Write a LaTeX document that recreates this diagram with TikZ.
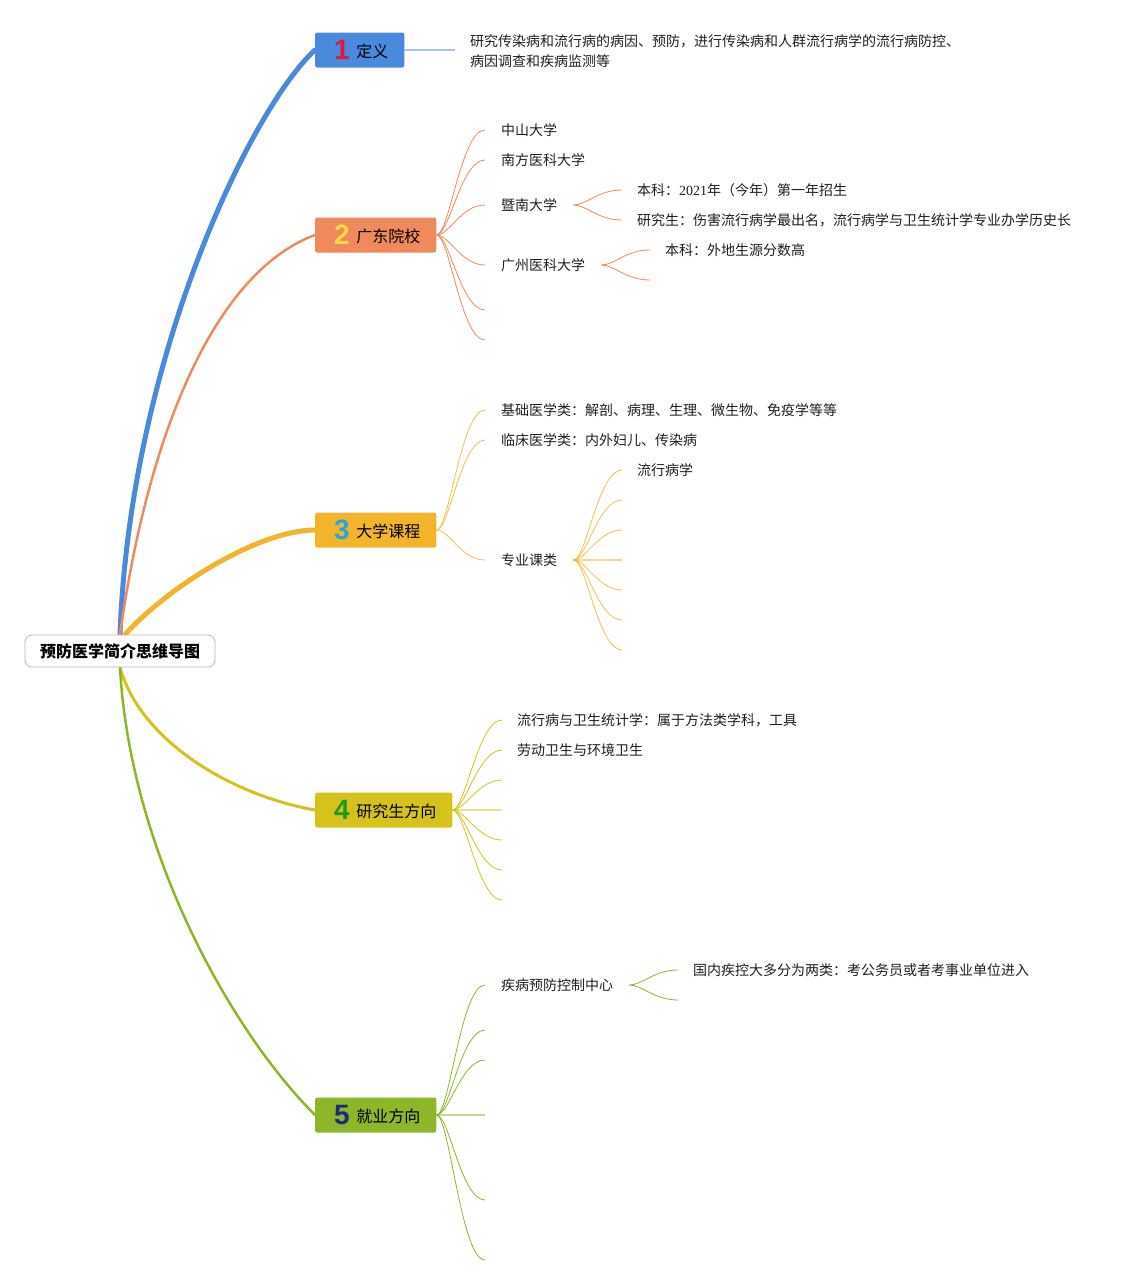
\documentclass[tikz,border=0pt]{standalone}
\usepackage{fontspec}
\setmainfont{Noto Sans CJK SC}
\newfontfamily\digitfont{Liberation Sans}
\newfontfamily\numserif{Liberation Serif}
\usetikzlibrary{calc,backgrounds}
\definecolor{cBlue}{HTML}{4A89DC}
\definecolor{cOrange}{HTML}{F08A5D}
\definecolor{cYellow}{HTML}{F1B42B}
\definecolor{cOlive}{HTML}{D5C31B}
\definecolor{cGreen}{HTML}{8DB62A}
\definecolor{nRed}{HTML}{E0173E}
\definecolor{nYellow}{HTML}{F7D744}
\definecolor{nBlue}{HTML}{2BA3DB}
\definecolor{nGreen}{HTML}{1E9B1E}
\definecolor{nNavy}{HTML}{1D2B7D}
\definecolor{cDefLine}{HTML}{A3C4EC}
\newcommand\dg[2]{\hspace*{3pt}\raisebox{-2.5pt}{\digitfont\bfseries\fontsize{28}{28}\selectfont\color{#1}#2}\hspace{6.5pt}}
\newcommand\kid[3][]{\draw[#1] (#2) .. controls ([xshift=13pt]#2) and ([xshift=-24pt]#3) .. (#3);}
\begin{document}
\begin{tikzpicture}[x=1pt,y=-1pt,
  topic/.style={anchor=west, minimum height=35pt, minimum width=0pt, inner xsep=16pt, inner ysep=0pt, rounded corners=2pt, font=\fontsize{16}{16}\selectfont, text=black},
  leaf/.style={anchor=west, inner sep=0pt, font=\fontsize{14}{14}\selectfont, text=black!88},
  rootbox/.style={draw=gray!55, rounded corners=7pt, fill=white, minimum height=32pt, inner xsep=15pt, inner ysep=0pt, font=\bfseries\fontsize{16}{16}\selectfont, line width=0.8pt},
  mainline/.style={line cap=round},
  thin/.style={line width=0.8pt},
  flat/.style={line width=2pt, opacity=0.5}]
\useasboundingbox (0,0) rectangle (1131,1285);
% root
\node[rootbox] (root) at (120,651) {预防医学简介思维导图};
% topics
\node[topic, fill=cBlue] (t1) at (315,50) {\dg{nRed}{1}定义};
\node[topic, fill=cOrange] (t2) at (315,235) {\dg{nYellow}{2}广东院校};
\node[topic, fill=cYellow] (t3) at (315,530) {\dg{nBlue}{3}大学课程};
\node[topic, fill=cOlive] (t4) at (315,810) {\dg{nGreen}{4}研究生方向};
\node[topic, fill=cGreen] (t5) at (315,1115) {\dg{nNavy}{5}就业方向};
\begin{scope}[on background layer]
\draw[mainline, cBlue, line width=5pt] (root.north) .. controls (130,360) and (250,110) .. (t1.west);
\draw[mainline, cOrange, line width=2.5pt] (root.north) .. controls (150,420) and (220,270) .. (t2.west);
\draw[mainline, cYellow, line width=5pt] ([xshift=5pt]root.north) .. controls (170,585) and (260,530) .. (t3.west);
\draw[mainline, cOlive, line width=3pt] (root.south) .. controls (140,740) and (230,795) .. (t4.west);
\draw[mainline, cGreen, line width=2.5pt] (root.south) .. controls (130,850) and (230,1030) .. (t5.west);
\end{scope}
% 1 definition
\coordinate (d1c) at (455,50);
\draw[cDefLine, line width=1.5pt] (t1.east) -- (d1c);
\node[leaf, align=left, font=\fontsize{14}{20}\selectfont] (d1) at (470,51) {研究传染病和流行病的病因、预防，进行传染病和人群流行病学的流行病防控、\\病因调查和疾病监测等};
% 2 schools
\foreach \n/\y in {a/130,b/160,c/205,d/265,e/310,f/340}{
  \coordinate (c2\n) at (485,\y);
  \kid[cOrange, thin]{t2.east}{c2\n}
}
\node[leaf] (l2a) at (501,130) {中山大学};
\node[leaf] (l2b) at (501,160) {南方医科大学};
\node[leaf] (l2c) at (501,205) {暨南大学};
\node[leaf] (l2d) at (501,265) {广州医科大学};
\coordinate (s2c) at ([xshift=16pt]l2c.east);
\coordinate (c2c1) at (622,190);
\coordinate (c2c2) at (622,220);
\kid[cOrange, thin]{s2c}{c2c1}
\kid[cOrange, thin]{s2c}{c2c2}
\node[leaf] (l2c1) at (637,190) {本科：{\numserif 2021}年（今年）第一年招生};
\node[leaf] (l2c2) at (637,220) {研究生：伤害流行病学最出名，流行病学与卫生统计学专业办学历史长};
\coordinate (s2d) at ([xshift=16pt]l2d.east);
\coordinate (c2d1) at (650,250);
\coordinate (c2d2) at (650,280);
\kid[cOrange, thin]{s2d}{c2d1}
\kid[cOrange, thin]{s2d}{c2d2}
\node[leaf] (l2d1) at (665,250) {本科：外地生源分数高};
% 3 courses
\foreach \n/\y in {a/410,b/440,c/560}{
  \coordinate (c3\n) at (485,\y);
  \kid[cYellow!85, thin]{t3.east}{c3\n}
}
\node[leaf] (l3a) at (501,410) {基础医学类：解剖、病理、生理、微生物、免疫学等等};
\node[leaf] (l3b) at (501,440) {临床医学类：内外妇儿、传染病};
\node[leaf] (l3c) at (501,560) {专业课类};
\coordinate (s3c) at ([xshift=16pt]l3c.east);
\foreach \n/\y in {1/470,2/500,3/530,5/590,6/620,7/650}{
  \coordinate (c3c\n) at (622,\y);
  \kid[cYellow!85, thin]{s3c}{c3c\n}
}
\coordinate (c3c4) at (622,560);
\draw[cYellow, flat] (s3c) -- (c3c4);
\node[leaf] (l3c1) at (637,470) {流行病学};
% 4 graduate
\foreach \n/\y in {a/720,b/750,c/780,e/840,f/870,g/900}{
  \coordinate (c4\n) at (502,\y);
  \kid[cOlive, thin]{t4.east}{c4\n}
}
\coordinate (c4d) at (502,810);
\draw[cOlive, flat] (t4.east) -- (c4d);
\node[leaf] (l4a) at (517,720) {流行病与卫生统计学：属于方法类学科，工具};
\node[leaf] (l4b) at (517,750) {劳动卫生与环境卫生};
% 5 jobs
\foreach \n/\y in {a/985,b/1030,c/1060,e/1200,f/1260}{
  \coordinate (c5\n) at (485,\y);
  \kid[cGreen, thin]{t5.east}{c5\n}
}
\coordinate (c5d) at (485,1115);
\draw[cGreen, flat] (t5.east) -- (c5d);
\node[leaf] (l5a) at (501,985) {疾病预防控制中心};
\coordinate (s5a) at ([xshift=16pt]l5a.east);
\coordinate (c5a1) at (678,970);
\coordinate (c5a2) at (678,1000);
\kid[cGreen, thin]{s5a}{c5a1}
\kid[cGreen, thin]{s5a}{c5a2}
\node[leaf] (l5a1) at (693,970) {国内疾控大多分为两类：考公务员或者考事业单位进入};
\end{tikzpicture}
\end{document}
